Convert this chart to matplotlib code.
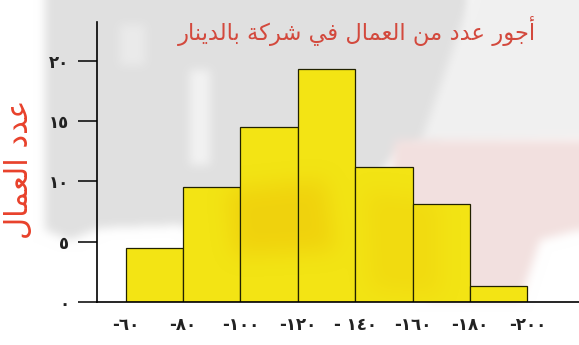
import numpy as np
import matplotlib
matplotlib.use("Agg")
import matplotlib.pyplot as plt
from matplotlib.path import Path

plt.rcParams['font.family'] = ['DejaVu Sans']


def shape_ar(s):
    # الحروف مكتوبة بأشكال العرض، نعكسها للعرض من اليسار لليمين
    return s[::-1]


# أجور عدد من العمال في شركة بالدينار
title = shape_ar(
    "\uFE83\uFE9F\uFEEE\uFEAD" + " " +
    "\uFECB\uFEAA\uFEA9" + " " +
    "\uFEE3\uFEE6" + " " +
    "\uFE8D\uFEDF\uFECC\uFEE4\uFE8E\uFEDD" + " " +
    "\uFED3\uFEF2" + " " +
    "\uFEB7\uFEAE\uFEDB\uFE94" + " " +
    "\uFE91\uFE8E\uFEDF\uFEAA\uFEF3\uFEE8\uFE8E\uFEAD"
)
# عدد العمال
ylabel = shape_ar(
    "\uFECB\uFEAA\uFEA9" + " " +
    "\uFE8D\uFEDF\uFECC\uFEE4\uFE8E\uFEDD"
)

edges = [60, 80, 100, 120, 140, 160, 180, 200]
counts = [4.5, 9.5, 14.5, 19.3, 11.2, 8.1, 1.3]
x_labels = ["-٦٠", "-٨٠", "-١٠٠", "-١٢٠", "- ١٤٠", "-١٦٠", "-١٨٠", "-٢٠٠"]
y_ticks = [0, 5, 10, 15, 20]
y_labels = ["٠", "٥", "١٠", "١٥", "٢٠"]

W, H = 579, 345
fig = plt.figure(figsize=(W / 100, H / 100), dpi=100)

yy, xx = np.mgrid[0:H, 0:W]
pix = np.column_stack([xx.ravel() + 0.5, yy.ravel() + 0.5])


def region(pts):
    return Path(pts).contains_points(pix).reshape(H, W).astype(float)


def blur(a, r, n=3):
    for _ in range(n):
        for axis in (0, 1):
            pad = [(0, 0), (0, 0)]
            pad[axis] = (r, r)
            b = np.pad(a, pad, mode='edge')
            c = np.cumsum(b, axis=axis)
            c = np.concatenate([np.zeros_like(np.take(c, [0], axis=axis)), c], axis=axis)
            hi = np.take(c, np.arange(2 * r + 1, c.shape[axis]), axis=axis)
            lo = np.take(c, np.arange(0, c.shape[axis] - 2 * r - 1), axis=axis)
            a = (hi - lo) / (2 * r + 1)
    return a


# خلفية باهتة خلف الرسم
img = np.ones((H, W, 3))
layers = [
    ([(45, 0), (470, 0), (470, 60), (440, 140), (400, 150), (330, 235), (250, 255),
      (180, 225), (100, 228), (70, 240), (45, 230)], (0.88, 0.88, 0.88)),
    ([(470, 0), (579, 0), (579, 140), (420, 145)], (0.945, 0.945, 0.945)),
    ([(190, 70), (210, 70), (210, 165), (190, 165)], (0.95, 0.95, 0.95)),
    ([(120, 25), (145, 25), (145, 65), (120, 65)], (0.92, 0.92, 0.92)),
    ([(395, 140), (579, 140), (579, 230), (540, 240), (520, 300), (430, 300), (380, 260)],
     (0.95, 0.88, 0.875)),
]
for pts, col in layers:
    m = blur(region(pts), 4)[..., None]
    img = img * (1 - m) + np.array(col) * m
fig.figimage(img, xo=0, yo=0, origin='upper', zorder=-2)

ax = fig.add_axes([97 / W, 43 / H, 482 / W, 280 / H])
ax.patch.set_alpha(0)

widths = np.diff(edges)
bars = ax.bar(edges[:-1], counts, width=widths, align='edge',
              color='#f3e414', edgecolor='#222200', linewidth=0.9, zorder=2)

ax.set_xlim(50, 218)
ax.set_ylim(0, 23.2)

ax.spines['top'].set_visible(False)
ax.spines['right'].set_visible(False)
ax.spines['left'].set_linewidth(1.2)
ax.spines['bottom'].set_linewidth(1.2)

ax.set_xticks(edges)
ax.set_xticklabels(x_labels, fontsize=12, fontweight='bold', color='#222222')
ax.tick_params(axis='x', length=0, pad=10)
ax.set_yticks(y_ticks)
ax.set_yticklabels(y_labels, fontsize=12, fontweight='bold', color='#222222')
ax.tick_params(axis='y', length=14, width=1.1, pad=6, direction='out')

fig.text(357 / W, 1 - 31 / H, title, fontsize=16.3, color='#d3493d',
         ha='center', va='center')
fig.text(20 / W, 1 - 169 / H, ylabel, fontsize=22, color='#e8412b',
         rotation=90, ha='center', va='center')

# بقع برتقالية خفيفة على الأعمدة
fig.canvas.draw()
inside = np.zeros((H, W))
for b in bars:
    ext = b.get_window_extent()
    x0, x1 = int(round(ext.x0)) + 1, int(round(ext.x1)) - 1
    y0, y1 = H - int(round(ext.y1)) + 1, H - int(round(ext.y0))
    inside[max(y0, 0):y1, max(x0, 0):x1] = 1
tint = blur(region([(228, 190), (325, 180), (335, 250), (235, 255)]), 10) * 0.35
tint += blur(region([(365, 190), (440, 200), (440, 295), (370, 290)]), 10) * 0.18
over = np.zeros((H, W, 4))
over[..., :3] = (0.92, 0.70, 0.0)
over[..., 3] = np.clip(tint, 0, 1) * inside
fig.figimage(over, xo=0, yo=0, origin='upper', zorder=3)

fig.savefig("out.png", dpi=100)
